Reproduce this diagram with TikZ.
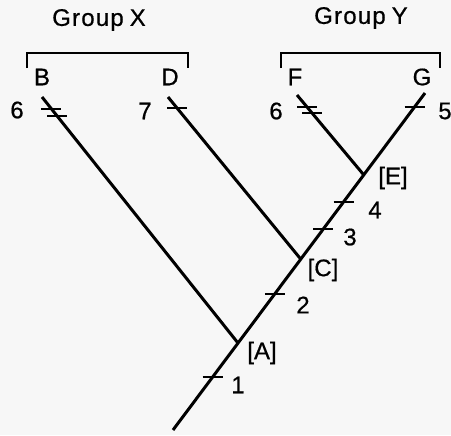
\documentclass[tikz,border=0pt]{standalone}
\usepackage{fontspec}
\setmainfont{Liberation Sans}
\usetikzlibrary{calc}

\begin{document}
\begin{tikzpicture}[x=0.5pt, y=-0.5pt,
  branch/.style={line width=1.5pt},
  tickmark/.style={line width=1pt},
  bracket/.style={line width=1pt},
  lbl/.style={font=\fontsize{12}{14}\selectfont\addfontfeature{FakeBold=0.6}, inner sep=0pt},
  grp/.style={font=\fontsize{12}{14}\selectfont\addfontfeature{LetterSpace=5,FakeBold=0.6}, inner sep=0pt}
]
  \useasboundingbox[fill=black!3] (0,0) rectangle (451,435);

  % tips and junctions
  \coordinate (root) at (173,430);
  \coordinate (G) at (425,93);
  \coordinate (B) at (42,97);
  \coordinate (D) at (168,97);
  \coordinate (F) at (297,95);
  \coordinate (A) at ($(root)!0.258!(G)$);
  \coordinate (C) at ($(root)!0.507!(G)$);
  \coordinate (E) at ($(root)!0.757!(G)$);

  % branches
  \draw[branch] (root) -- (G);
  \draw[branch] (B) -- (A);
  \draw[branch] (D) -- (C);
  \draw[branch] (F) -- (E);

  % character ticks on the trunk
  \foreach \f in {0.157,0.404,0.596,0.677}
    \draw[tickmark] ($(root)!\f!(G)$) +(-10,0) -- +(10,0);
  % ticks near the tips
  \foreach \f in {0.048,0.077}
    \draw[tickmark] ($(B)!\f!(A)$) +(-10,0) -- +(10,0);
  \draw[tickmark] ($(D)!0.07!(C)$) +(-10,0) -- +(10,0);
  \foreach \f in {0.15,0.225}
    \draw[tickmark] ($(F)!\f!(E)$) +(-10,0) -- +(10,0);
  \draw[tickmark] ($(G)!0.17!(E)$) +(-10,0) -- +(10,0);

  % node labels
  \node[lbl] (labA) at (262,353) {[A]};
  \node[lbl] (labC) at (323,270) {[C]};
  \node[lbl] (labE) at (393,178) {[E]};
  \node[lbl] (n1) at (238,385) {1};
  \node[lbl] (n2) at (303,305) {2};
  \node[lbl] (n3) at (350,237) {3};
  \node[lbl] (n4) at (375,210) {4};

  % taxa
  \node[lbl] (tB) at (42,77) {B};
  \node[lbl] (tD) at (170,77) {D};
  \node[lbl] (tF) at (295,77) {F};
  \node[lbl] (tG) at (422,77) {G};
  \node[lbl] (nB) at (17,110) {6};
  \node[lbl] (nD) at (145,111) {7};
  \node[lbl] (nF) at (276,111) {6};
  \node[lbl] (nG) at (445,111) {5};

  % groups
  \draw[bracket] (27,68) |- (188,53) -- (188,68);
  \draw[bracket] (281,68) |- (440,53) -- (440,68);
  \node[grp] (grpX) at (99,20) {Group\hspace{3pt}X};
  \node[grp] (grpY) at (361,18) {Group\hspace{3pt}Y};
\end{tikzpicture}
\end{document}
